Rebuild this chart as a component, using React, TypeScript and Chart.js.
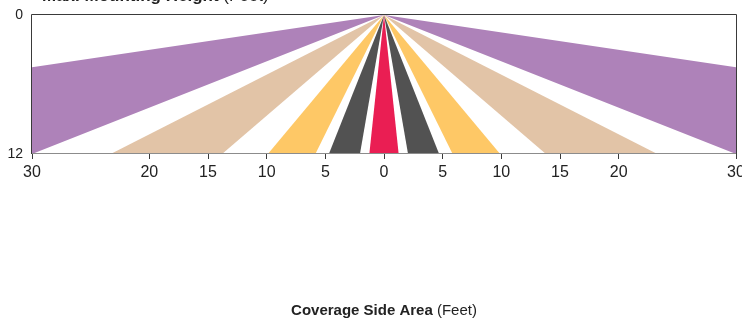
import React, { useEffect, useRef } from 'react';
import { Chart, registerables } from 'chart.js';

Chart.register(...registerables);

// ---- Data ----
const xTickValues = [-30, -20, -15, -10, -5, 0, 5, 10, 15, 20, 30];
const yTickValues = [0, 12];
const xMin = -30;
const xMax = 30;
const yMin = 0;
const yMax = 12;

const apexX = 0;
const apexY = 0;

const wedgeNames = ['Purple L', 'Tan L', 'Yellow L', 'Gray L', 'Red', 'Gray R', 'Yellow R', 'Tan R', 'Purple R'];
const wedgeColors = ['#ae82b9', '#e2c4a7', '#fec866', '#525252', '#ea1e53', '#525252', '#fec866', '#e2c4a7', '#ae82b9'];
const wedgeX1 = [-30, -23.3, -9.9, -4.7, -1.25, 2.05, 5.85, 13.8, 30];
const wedgeY1 = [4.5, 12, 12, 12, 12, 12, 12, 12, 4.5];
const wedgeX2 = [-30, -13.8, -5.85, -2.05, 1.25, 4.7, 9.9, 23.3, 30];
const wedgeY2 = [12, 12, 12, 12, 12, 12, 12, 12, 12];

const topTitleBold = 'Max. Mounting Height';
const topTitleRegular = ' (Feet)';
const xTitleBold = 'Coverage Side Area';
const xTitleRegular = ' (Feet)';

const FONT = '"Liberation Sans", Arial, Helvetica, sans-serif';

const framePlugin = {
  id: 'framePlugin',
  afterDatasetsDraw(chart: any) {
    const { ctx, chartArea } = chart;
    const { left, right, top, bottom } = chartArea;
    ctx.save();
    ctx.lineWidth = 1;
    ctx.strokeStyle = '#3a3a3a';
    ctx.beginPath();
    ctx.moveTo(left - 0.5, bottom);
    ctx.lineTo(left - 0.5, top - 0.5);
    ctx.lineTo(right + 0.5, top - 0.5);
    ctx.lineTo(right + 0.5, bottom);
    ctx.stroke();
    ctx.strokeStyle = '#8c8c8c';
    ctx.beginPath();
    ctx.moveTo(left, bottom - 0.5);
    ctx.lineTo(right, bottom - 0.5);
    ctx.stroke();
    ctx.restore();
  },
  afterDraw(chart: any) {
    const { ctx, chartArea } = chart;
    ctx.save();
    ctx.fillStyle = '#222';
    // top title (mostly cut off by the window edge)
    ctx.textBaseline = 'alphabetic';
    ctx.textAlign = 'left';
    ctx.font = `bold 17px ${FONT}`;
    const tx = 42;
    ctx.fillText(topTitleBold, tx, 0.5);
    const w1 = ctx.measureText(topTitleBold).width;
    ctx.font = `17px ${FONT}`;
    ctx.fillText(topTitleRegular, tx + w1, 0.5);
    // x axis title
    ctx.textBaseline = 'middle';
    ctx.font = `bold 15px ${FONT}`;
    const wb = ctx.measureText(xTitleBold).width;
    ctx.font = `15px ${FONT}`;
    const wr = ctx.measureText(xTitleRegular).width;
    const cx = (chartArea.left + chartArea.right) / 2;
    const sx = cx - (wb + wr) / 2;
    ctx.font = `bold 15px ${FONT}`;
    ctx.fillText(xTitleBold, sx, 311);
    ctx.font = `15px ${FONT}`;
    ctx.fillText(xTitleRegular, sx + wb, 311);
    ctx.restore();
  },
};

export default function App() {
  const canvasRef = useRef<HTMLCanvasElement | null>(null);

  useEffect(() => {
    if (!canvasRef.current) return;
    const datasets = wedgeNames.map((name, i) => ({
      label: name,
      data: [
        { x: apexX, y: apexY },
        { x: wedgeX1[i], y: wedgeY1[i] },
        { x: wedgeX2[i], y: wedgeY2[i] },
        { x: apexX, y: apexY },
      ],
      showLine: true,
      fill: 'shape',
      backgroundColor: wedgeColors[i],
      borderColor: wedgeColors[i],
      borderWidth: 0,
      pointRadius: 0,
      pointHoverRadius: 0,
      tension: 0,
    }));

    const chart = new Chart(canvasRef.current, {
      type: 'scatter',
      data: { datasets: datasets as any },
      plugins: [framePlugin],
      options: {
        animation: false,
        responsive: true,
        maintainAspectRatio: false,
        layout: { padding: { top: 15, right: 6, left: 0, bottom: 0 } },
        plugins: {
          legend: { display: false },
          tooltip: { enabled: false },
          title: { display: false },
        },
        scales: {
          x: {
            type: 'linear',
            position: 'bottom',
            min: xMin,
            max: xMax,
            afterBuildTicks: (scale: any) => {
              scale.ticks = xTickValues.map((v) => ({ value: v }));
            },
            afterFit: (scale: any) => {
              scale.height = 164;
              scale.paddingLeft = 0;
              scale.paddingRight = 0;
            },
            ticks: {
              autoSkip: false,
              maxRotation: 0,
              padding: 4,
              color: '#222',
              font: { size: 16, family: FONT },
              callback: (v: any) => String(Math.abs(Number(v))),
            },
            grid: {
              display: true,
              drawOnChartArea: false,
              drawTicks: true,
              tickLength: 5,
              color: '#3a3a3a',
            },
            border: { display: false },
          },
          y: {
            type: 'linear',
            min: yMin,
            max: yMax,
            reverse: true,
            afterBuildTicks: (scale: any) => {
              scale.ticks = yTickValues.map((v) => ({ value: v }));
            },
            afterFit: (scale: any) => {
              scale.width = 32;
              scale.paddingTop = 0;
              scale.paddingBottom = 0;
            },
            ticks: {
              autoSkip: false,
              padding: 9,
              color: '#222',
              font: { size: 14, family: FONT },
            },
            grid: { display: false, drawTicks: false },
            border: { display: false },
          },
        },
      },
    });
    return () => chart.destroy();
  }, []);

  return (
    <div style={{ position: 'fixed', left: 0, top: 0, width: 742, height: 318, background: '#fff' }}>
      <canvas ref={canvasRef} />
    </div>
  );
}
